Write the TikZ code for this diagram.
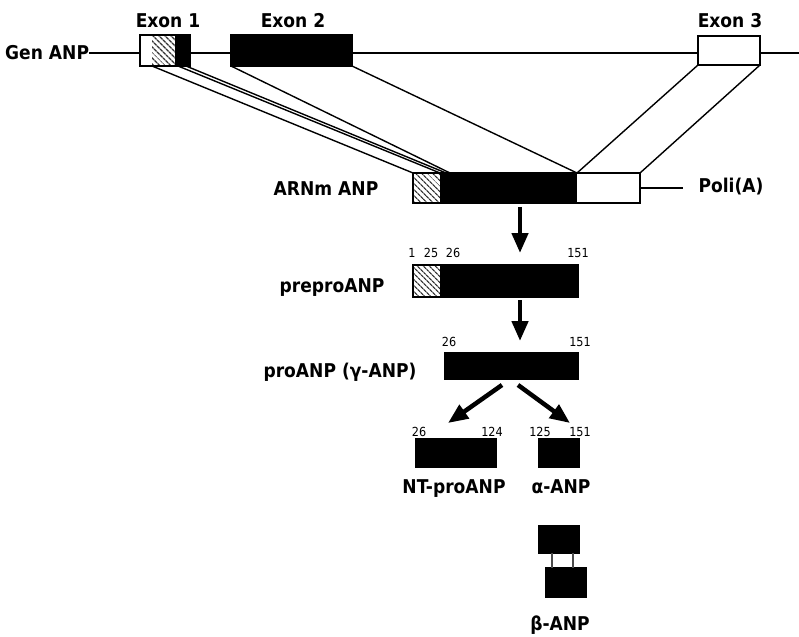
\documentclass[tikz,border=0pt]{standalone}
\usepackage{fontspec}
\setmainfont{DejaVu Sans}[FakeStretch=0.9]
\usetikzlibrary{patterns.meta,arrows.meta}
\begin{document}
\begin{tikzpicture}[x=1pt,y=-1pt,
 lbl/.style={font=\fontsize{19}{22}\selectfont\bfseries,inner sep=0pt,anchor=base},
 num/.style={font=\fontsize{12.5}{14}\selectfont,inner sep=0pt,anchor=base},
 box/.style={draw=black,line width=2.2pt,inner sep=0pt,outer sep=0pt,anchor=north west},
 hatchfill/.style={pattern={Lines[angle=-45,distance=4pt,line width=1.4pt]},pattern color=black!80},
 link/.style={line width=1.4pt},
 bigarrow/.style={line width=4.5pt,-{Triangle[length=20pt,width=16pt]}}]
\useasboundingbox (0,0) rectangle (799,636);
% gene line
\node[lbl,anchor=base west] (gen) at (5,60) {Gen ANP};
\coordinate (rend) at (799,52);
\draw[line width=2.5pt] (gen.east) -- (gen.east -| rend);
% exon 1
\fill[white] (140,35) rectangle (175,66);
\fill[hatchfill] (152,35) rectangle (175,66);
\fill[black] (175,35) rectangle (190,66);
\node[box,minimum width=50,minimum height=31] (ex1) at (140,35) {};
% exon 2, 3
\node[box,fill=black,minimum width=121,minimum height=31] (ex2) at (231,35) {};
\node[box,fill=white,minimum width=62,minimum height=29] (ex3) at (698,36) {};
\node[lbl] (ex1l) at (168,28) {Exon 1};
\node[lbl] (ex2l) at (293,28) {Exon 2};
\node[lbl] (ex3l) at (730,28) {Exon 3};
% mRNA
\fill[white] (413,173) rectangle (440,203);
\fill[hatchfill] (413,173) rectangle (440,203);
\fill[black] (440,173) rectangle (577,203);
\node[box,minimum width=227,minimum height=30] (mrna) at (413,173) {};
\node[lbl] (mrnal) at (326,196) {ARNm ANP};
\node[lbl] (polia) at (731,193) {Poli(A)};
\draw[line width=2.5pt] (mrna.east) -- ([xshift=-15]mrna.east -| polia.west);
% splice links
\draw[link] ([xshift=12]ex1.south west) -- (mrna.north west);
\draw[link] ([xshift=38]ex1.south west) -- ([xshift=27]mrna.north west);
\draw[link] ([xshift=46]ex1.south west) -- ([xshift=33]mrna.north west);
\draw[link] (ex2.south west) -- ([xshift=37]mrna.north west);
\draw[link] (ex2.south east) -- ([xshift=164]mrna.north west);
\draw[link] (ex3.south west) -- ([xshift=164]mrna.north west);
\draw[link] (ex3.south east) -- (mrna.north east);
% preproANP
\fill[white] (413,265) rectangle (440,297);
\fill[hatchfill] (413,265) rectangle (440,297);
\node[box,draw=black,line width=1.2pt,minimum width=165,minimum height=32] (prepro) at (413,265) {};
\fill[black] (440,265) rectangle (578,297);
\node[lbl] (preprol) at (332,292) {preproANP};
\node[num] (n1) at (412,257) {1};
\node[num] (n25) at (431,257) {25};
\node[num] (n26a) at (453,257) {26};
\node[num] (n151a) at (578,257) {151};
% proANP
\node[box,fill=black,minimum width=133,minimum height=26] (pro) at (445,353) {};
\node[lbl] (prol) at (340,377) {proANP (γ-ANP)};
\node[num] (n26b) at (449,346) {26};
\node[num] (n151b) at (580,346) {151};
% fragments
\node[box,fill=black,minimum width=80,minimum height=28] (nt) at (416,439) {};
\node[box,fill=black,minimum width=40,minimum height=28] (alpha) at (539,439) {};
\node[num] (n26c) at (419,436) {26};
\node[num] (n124) at (492,436) {124};
\node[num] (n125) at (540,436) {125};
\node[num] (n151c) at (580,436) {151};
\node[lbl] (ntl) at (454,493) {NT-proANP};
\node[lbl] (alphal) at (561,493) {α-ANP};
% beta
\node[box,fill=black,minimum width=40,minimum height=27] (betaA) at (539,526) {};
\node[box,fill=black,minimum width=40,minimum height=29] (betaB) at (546,568) {};
\draw[line width=1.8pt,black!70] ([xshift=13]betaA.south west) -- ([xshift=6]betaB.north west);
\draw[line width=1.8pt,black!70] ([xshift=34]betaA.south west) -- ([xshift=27]betaB.north west);
\node[lbl] (betal) at (560,630) {β-ANP};
% arrows
\coordinate (a1s) at (520,207);
\coordinate (a1e) at (520,253);
\coordinate (a2s) at (520,300);
\coordinate (a2e) at (520,341);
\coordinate (a3s) at (502,385);
\coordinate (a3e) at (448,423);
\coordinate (a4s) at (518,385);
\coordinate (a4e) at (570,423);
\draw[bigarrow] (a1s) -- (a1e);
\draw[bigarrow] (a2s) -- (a2e);
\draw[bigarrow] (a3s) -- (a3e);
\draw[bigarrow] (a4s) -- (a4e);
\end{tikzpicture}
\end{document}
